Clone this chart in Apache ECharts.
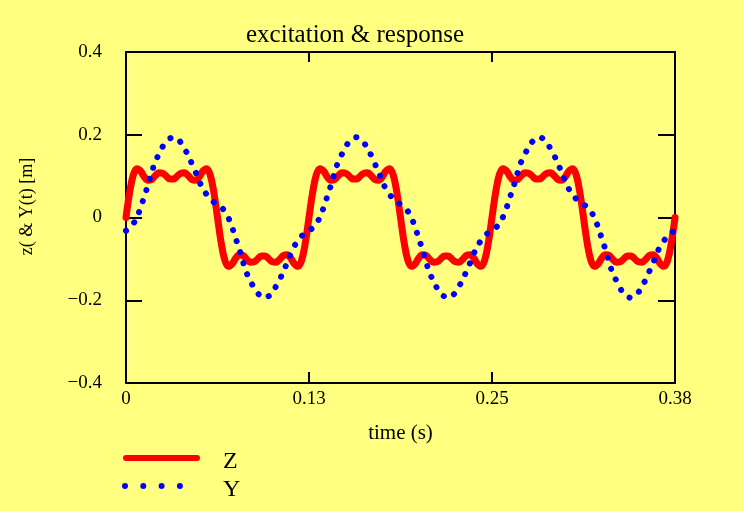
<!DOCTYPE html>
<html>
<head>
<meta charset="utf-8">
<title>excitation & response</title>
<script src="https://cdn.jsdelivr.net/npm/echarts@6.0.0/dist/echarts.min.js"></script>
<style>
  html, body { margin: 0; padding: 0; background: #ffff80; }
  #chart { width: 744px; height: 511px; }
</style>
</head>
<body>
<div id="chart"></div>
<script>
// time samples (s), step 0.0025
const time = [
  0, 0.0025, 0.005, 0.0075, 0.01, 0.0125, 0.015, 0.0175, 0.02, 0.0225,
  0.025, 0.0275, 0.03, 0.0325, 0.035, 0.0375, 0.04, 0.0425, 0.045, 0.0475,
  0.05, 0.0525, 0.055, 0.0575, 0.06, 0.0625, 0.065, 0.0675, 0.07, 0.0725,
  0.075, 0.0775, 0.08, 0.0825, 0.085, 0.0875, 0.09, 0.0925, 0.095, 0.0975,
  0.1, 0.1025, 0.105, 0.1075, 0.11, 0.1125, 0.115, 0.1175, 0.12, 0.1225,
  0.125, 0.1275, 0.13, 0.1325, 0.135, 0.1375, 0.14, 0.1425, 0.145, 0.1475,
  0.15, 0.1525, 0.155, 0.1575, 0.16, 0.1625, 0.165, 0.1675, 0.17, 0.1725,
  0.175, 0.1775, 0.18, 0.1825, 0.185, 0.1875, 0.19, 0.1925, 0.195, 0.1975,
  0.2, 0.2025, 0.205, 0.2075, 0.21, 0.2125, 0.215, 0.2175, 0.22, 0.2225,
  0.225, 0.2275, 0.23, 0.2325, 0.235, 0.2375, 0.24, 0.2425, 0.245, 0.2475,
  0.25, 0.2525, 0.255, 0.2575, 0.26, 0.2625, 0.265, 0.2675, 0.27, 0.2725,
  0.275, 0.2775, 0.28, 0.2825, 0.285, 0.2875, 0.29, 0.2925, 0.295, 0.2975,
  0.3, 0.3025, 0.305, 0.3075, 0.31, 0.3125, 0.315, 0.3175, 0.32, 0.3225,
  0.325, 0.3275, 0.33, 0.3325, 0.335, 0.3375, 0.34, 0.3425, 0.345, 0.3475,
  0.35, 0.3525, 0.355, 0.3575, 0.36, 0.3625, 0.365, 0.3675, 0.37, 0.3725,
  0.375
];

// excitation z(t) [m]
const zValues = [
  0, 0.061, 0.103, 0.118, 0.112, 0.098, 0.090, 0.092, 0.101, 0.108, 0.107, 0.100, 0.093, 0.093, 0.100, 0.107, 0.108, 0.101, 0.092, 0.090, 0.098, 0.112, 0.118, 0.103, 0.061,
  0, -0.061, -0.103, -0.118, -0.112, -0.098, -0.090, -0.092, -0.101, -0.108, -0.107, -0.100, -0.093, -0.093, -0.100, -0.107, -0.108, -0.101, -0.092, -0.090, -0.098, -0.112, -0.118, -0.103, -0.061,
  0, 0.061, 0.103, 0.118, 0.112, 0.098, 0.090, 0.092, 0.101, 0.108, 0.107, 0.100, 0.093, 0.093, 0.100, 0.107, 0.108, 0.101, 0.092, 0.090, 0.098, 0.112, 0.118, 0.103, 0.061,
  0, -0.061, -0.103, -0.118, -0.112, -0.098, -0.090, -0.092, -0.101, -0.108, -0.107, -0.100, -0.093, -0.093, -0.100, -0.107, -0.108, -0.101, -0.092, -0.090, -0.098, -0.112, -0.118, -0.103, -0.061,
  0, 0.061, 0.103, 0.118, 0.112, 0.098, 0.090, 0.092, 0.101, 0.108, 0.107, 0.100, 0.093, 0.093, 0.100, 0.107, 0.108, 0.101, 0.092, 0.090, 0.098, 0.112, 0.118, 0.103, 0.061,
  0, -0.061, -0.103, -0.118, -0.112, -0.098, -0.090, -0.092, -0.101, -0.108, -0.107, -0.100, -0.093, -0.093, -0.100, -0.107, -0.108, -0.101, -0.092, -0.090, -0.098, -0.112, -0.118, -0.103, -0.061,
  0
];

// response Y(t) [m]
const yValues = [
  -0.032, -0.025, -0.015, 0.001, 0.024, 0.051, 0.078, 0.108, 0.135, 0.153, 0.171, 0.183, 0.191, 0.194, 0.190, 0.181, 0.166, 0.150, 0.130, 0.110, 0.088, 0.069, 0.056, 0.045, 0.037,
  0.032, 0.025, 0.015, -0.001, -0.024, -0.051, -0.078, -0.108, -0.135, -0.153, -0.171, -0.183, -0.191, -0.194, -0.190, -0.181, -0.166, -0.150, -0.130, -0.110, -0.088, -0.069, -0.056, -0.045, -0.037,
  -0.032, -0.025, -0.015, 0.001, 0.024, 0.051, 0.078, 0.108, 0.135, 0.153, 0.171, 0.183, 0.191, 0.194, 0.190, 0.181, 0.166, 0.150, 0.130, 0.110, 0.088, 0.069, 0.056, 0.045, 0.037,
  0.032, 0.025, 0.015, -0.001, -0.024, -0.051, -0.078, -0.108, -0.135, -0.153, -0.171, -0.183, -0.191, -0.194, -0.190, -0.181, -0.166, -0.150, -0.130, -0.110, -0.088, -0.069, -0.056, -0.045, -0.037,
  -0.032, -0.025, -0.015, 0.001, 0.024, 0.051, 0.078, 0.108, 0.135, 0.153, 0.171, 0.183, 0.191, 0.194, 0.190, 0.181, 0.166, 0.150, 0.130, 0.110, 0.088, 0.069, 0.056, 0.045, 0.037,
  0.032, 0.025, 0.015, -0.001, -0.024, -0.051, -0.078, -0.108, -0.135, -0.153, -0.171, -0.183, -0.191, -0.194, -0.190, -0.181, -0.166, -0.150, -0.130, -0.110, -0.088, -0.069, -0.056, -0.045, -0.037,
  -0.032
];

// axis ticks
const xTicks = { min: 0, max: 0.375, step: 0.125 };
const yTicks = { min: -0.4, max: 0.4, step: 0.2 };

const font = '"Liberation Serif", "DejaVu Serif", serif';

// legend icons: solid bar for Z, four dots for Y.
// the zero-area piece at y=14 stretches the box so the text sits a bit below the mark
const iconPad = ' M30,14 L30.01,14 L30,14 Z';
const zIcon = 'path://M3,0 L74,0 A3,3 0 0,1 74,6 L3,6 A3,3 0 0,1 3,0 Z' + iconPad;
const yIcon = 'path://M0,3 A3,3 0 1,0 6,3 A3,3 0 1,0 0,3 Z' +
  ' M18.3,3 A3,3 0 1,0 24.3,3 A3,3 0 1,0 18.3,3 Z' +
  ' M36.6,3 A3,3 0 1,0 42.6,3 A3,3 0 1,0 36.6,3 Z' +
  ' M54.9,3 A3,3 0 1,0 60.9,3 A3,3 0 1,0 54.9,3 Z' + iconPad;

const chart = echarts.init(document.getElementById('chart'));

const zData = time.map((t, i) => [t, zValues[i]]);
const yData = time.map((t, i) => [t, yValues[i]]);

function xLabel(v) {
  return v === 0 ? '0' : v.toFixed(2);
}
function yLabel(v) {
  if (Math.abs(v) < 1e-9) return '0';
  return (v < 0 ? '\u2212' : '') + Math.abs(v).toFixed(1);
}

const axisLine = { show: true, onZero: false, lineStyle: { color: '#000', width: 2 } };

const option = {
  backgroundColor: '#ffff80',
  animation: false,
  title: {
    text: 'excitation & response',
    left: 246,
    top: 23,
    padding: 0,
    textStyle: { fontFamily: font, fontSize: 25, fontWeight: 'normal', color: '#000' }
  },
  legend: [
    {
      data: [{ name: 'Z', icon: zIcon }],
      orient: 'vertical',
      left: 123,
      top: 450,
      padding: 0,
      itemWidth: 77,
      itemHeight: 14,
      textStyle: { fontFamily: font, fontSize: 24, color: '#000', padding: [0, 0, -8, 18] }
    },
    {
      data: [{ name: 'Y', icon: yIcon }],
      orient: 'vertical',
      left: 122,
      top: 478,
      padding: 0,
      itemWidth: 61,
      itemHeight: 14,
      textStyle: { fontFamily: font, fontSize: 24, color: '#000', padding: [0, 0, -8, 35] }
    }
  ],
  grid: { left: 126, right: 69, top: 52, bottom: 128, containLabel: false },
  xAxis: [
    {
      type: 'value',
      position: 'bottom',
      min: xTicks.min,
      max: xTicks.max,
      interval: xTicks.step,
      name: 'time (s)',
      nameLocation: 'middle',
      nameGap: 40,
      nameTextStyle: { fontFamily: font, fontSize: 21, color: '#000' },
      axisLine: axisLine,
      axisTick: { inside: true, length: 11, lineStyle: { color: '#000', width: 2 } },
      axisLabel: { margin: 7, formatter: xLabel, fontFamily: font, fontSize: 19, color: '#000' },
      splitLine: { show: false }
    },
    {
      type: 'value',
      position: 'top',
      min: xTicks.min,
      max: xTicks.max,
      interval: xTicks.step,
      axisLine: axisLine,
      axisTick: { inside: true, length: 10, lineStyle: { color: '#000', width: 2 } },
      axisLabel: { show: false },
      splitLine: { show: false }
    }
  ],
  yAxis: [
    {
      type: 'value',
      position: 'left',
      min: yTicks.min,
      max: yTicks.max,
      interval: yTicks.step,
      name: 'z( & Y(t) [m]',
      nameLocation: 'middle',
      nameRotate: 90,
      nameGap: 90,
      nameTextStyle: { fontFamily: font, fontSize: 18, color: '#000', padding: [0, 0, 0, 22] },
      axisLine: axisLine,
      axisTick: { inside: true, length: 16, lineStyle: { color: '#000', width: 2 } },
      axisLabel: { margin: 24, formatter: yLabel, fontFamily: font, fontSize: 19, color: '#000' },
      splitLine: { show: false }
    },
    {
      type: 'value',
      position: 'right',
      min: yTicks.min,
      max: yTicks.max,
      interval: yTicks.step,
      axisLine: axisLine,
      axisTick: { inside: true, length: 17, lineStyle: { color: '#000', width: 2 } },
      axisLabel: { show: false },
      splitLine: { show: false }
    }
  ],
  series: [
    {
      name: 'Z',
      type: 'line',
      data: zData,
      showSymbol: false,
      symbol: 'none',
      smooth: 0.4,
      itemStyle: { color: '#ff0000' },
      lineStyle: { color: '#ff0000', width: 7, cap: 'round', join: 'round' }
    },
    {
      name: 'Y',
      type: 'line',
      data: yData,
      showSymbol: false,
      symbol: 'none',
      smooth: 0.4,
      itemStyle: { color: '#0000ff' },
      lineStyle: { color: '#0000ff', width: 6, type: [0.1, 11.5], cap: 'round' }
    }
  ]
};

chart.setOption(option);
</script>
</body>
</html>
